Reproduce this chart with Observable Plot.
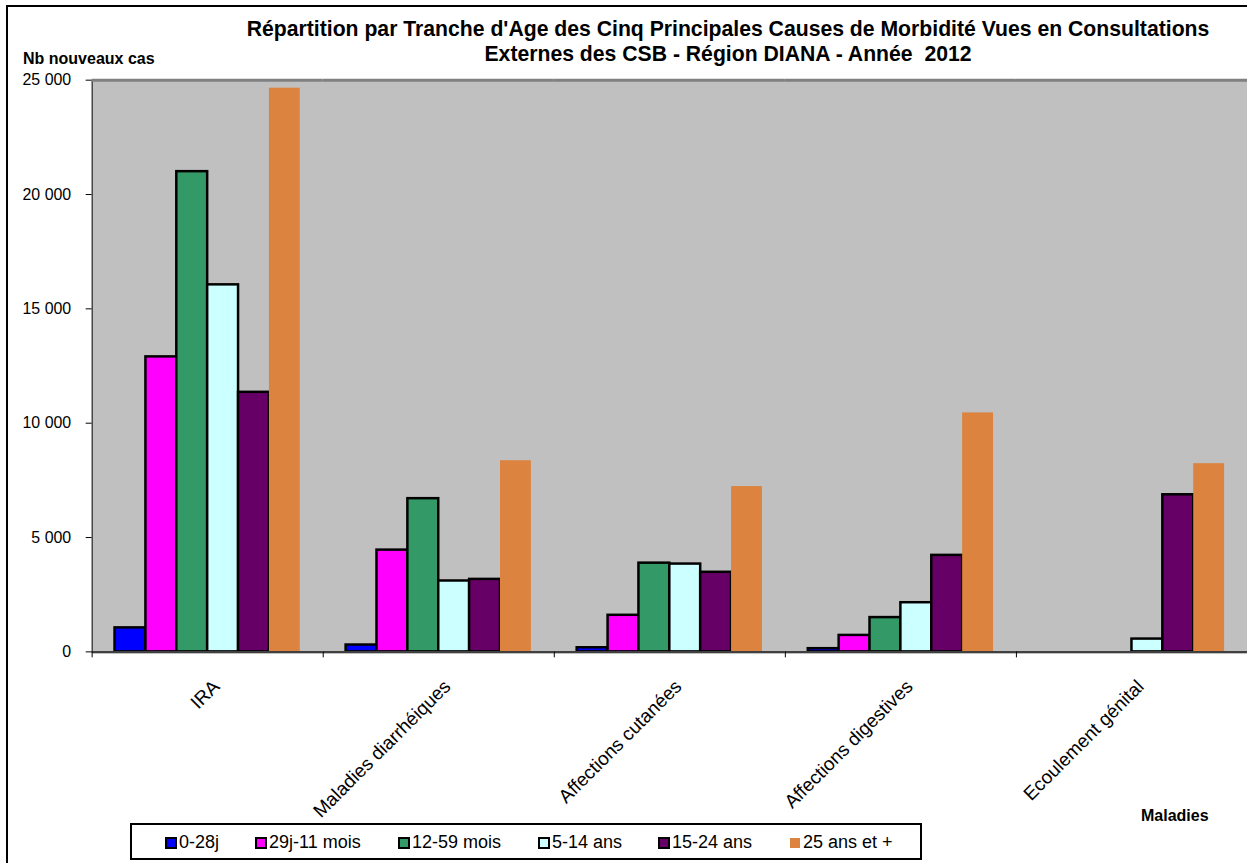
<!DOCTYPE html>
<html><head><meta charset="utf-8">
<script src="https://cdn.jsdelivr.net/npm/d3@7"></script>
<script src="https://cdn.jsdelivr.net/npm/@observablehq/plot@0.6"></script>
<style>
html,body{margin:0;padding:0;overflow:hidden;background:#fff;}
#wrap{position:relative;width:1247px;height:863px;overflow:hidden;font-family:"Liberation Sans",Arial,sans-serif;color:#000;}
#border{position:absolute;left:6px;top:5px;width:1300px;height:900px;border:2px solid #000;box-sizing:border-box;}
#plotbg{position:absolute;left:92px;top:80px;width:1160px;height:574px;background:#c0c0c0;}
#chart{position:absolute;left:0;top:0;}
#title{position:absolute;left:228px;width:1000px;top:16px;text-align:center;font-weight:bold;font-size:21.2px;line-height:25px;white-space:nowrap;}
#ylab{position:absolute;left:23px;top:50px;font-weight:bold;font-size:16px;line-height:18px;}
#xlab{position:absolute;left:1141px;top:807px;font-weight:bold;font-size:16px;line-height:18px;}
#legend{position:absolute;left:130px;top:823px;width:792px;height:37px;border:2px solid #000;box-sizing:border-box;background:#fff;}
.li{position:absolute;top:0;height:33px;}
.sw{position:absolute;top:12px;width:12px;height:12px;box-sizing:border-box;border:2px solid #000;}
.lt{position:absolute;top:6px;left:14px;font-size:18px;line-height:22px;white-space:nowrap;}
</style></head>
<body>
<div id="wrap">
  <div id="border"></div>
  <div id="plotbg"></div>
  <div id="chart"></div>
  <div id="title"></div>
  <div id="ylab"></div>
  <div id="xlab"></div>
  <div id="legend"></div>
</div>
<script>
const titleLines = ["Répartition par Tranche d'Age des Cinq Principales Causes de Morbidité Vues en Consultations", "Externes des CSB - Région DIANA - Année  2012"];
const yTitle = "Nb nouveaux cas";
const xTitle = "Maladies";
const causes = ["IRA", "Maladies diarrhéiques", "Affections cutanées", "Affections digestives", "Ecoulement génital"];
const ages = ["0-28j", "29j-11 mois", "12-59 mois", "5-14 ans", "15-24 ans", "25 ans et +"];
const colors = ["#0000ff", "#ff00ff", "#339966", "#ccffff", "#660066", "#dc843f"];
const v0_28j    = [1050, 300, 180, 140, 0];
const v29j_11m  = [12900, 4450, 1600, 720, 0];
const v12_59m   = [21000, 6700, 3880, 1500, 0];
const v5_14a    = [16050, 3100, 3840, 2150, 560];
const v15_24a   = [11350, 3170, 3480, 4220, 6870];
const v25plus   = [24650, 8360, 7230, 10450, 8230];
const yTicks = [0, 5000, 10000, 15000, 20000, 25000];
const legendX = [165, 255, 398, 538, 658, 789];

const series = [v0_28j, v29j_11m, v12_59m, v5_14a, v15_24a, v25plus];
const data = ages.flatMap((age, i) => causes.map((cause, j) => ({cause, age, value: series[i][j]})));
const fmt = d3.formatLocale({decimal: ",", thousands: " ", grouping: [3], currency: ["", " €"]}).format(",");

const W = 1252, ML = 92, MR = 0;
const halfStep = (W - ML - MR) / causes.length / 2;

const chart = Plot.plot({
  width: W, height: 863,
  marginTop: 80, marginBottom: 209, marginLeft: ML, marginRight: MR,
  style: {fontFamily: "Liberation Sans, Arial, sans-serif", fontSize: "16px", color: "#000", background: "transparent", overflow: "visible"},
  fx: {domain: causes, padding: 0, axis: null},
  x: {domain: ages, paddingInner: 0, paddingOuter: 0.74, axis: null},
  y: {domain: [0, 25000], ticks: yTicks, tickFormat: fmt, tickSize: 6, tickPadding: 15, line: true, label: null},
  color: {domain: ages, range: colors},
  marks: [
    Plot.ruleY([25000], {stroke: "#808080", strokeWidth: 3}),
    Plot.barY(data.filter(d => d.value > 0 && d.age !== ages[5]), {fx: "cause", x: "age", y: "value", fill: "age", stroke: "#000", strokeWidth: 2.5}),
    Plot.barY(data.filter(d => d.value > 0 && d.age === ages[5]), {fx: "cause", x: "age", y: "value", fill: "age"}),
    Plot.ruleY([0], {stroke: "#404040", strokeWidth: 2}),
    Plot.axisFx({anchor: "bottom", tickSize: 6, fill: "none", dx: -halfStep, label: null}),
    Plot.text(causes, {fx: d => d, text: d => d, frameAnchor: "bottom", rotate: -45, textAnchor: "end", lineAnchor: "bottom", dx: 13, dy: 36, fontSize: 19})
  ]
});
document.getElementById("chart").appendChild(chart);

document.getElementById("title").innerHTML = titleLines.map(t => t.replace(/  /g, " &nbsp;")).join("<br>");
document.getElementById("ylab").textContent = yTitle;
document.getElementById("xlab").textContent = xTitle;

const legend = document.getElementById("legend");
ages.forEach((a, i) => {
  const item = document.createElement("div");
  item.className = "li";
  item.style.left = (legendX[i] - 132) + "px";
  const sw = document.createElement("div");
  sw.className = "sw";
  sw.style.background = colors[i];
  if (i === ages.length - 1) { sw.style.border = "none"; sw.style.width = "10px"; sw.style.height = "10px"; sw.style.left = "1px"; sw.style.top = "13px"; }
  const lt = document.createElement("div");
  lt.className = "lt";
  lt.textContent = a;
  item.appendChild(sw); item.appendChild(lt);
  legend.appendChild(item);
});
</script>
</body></html>
